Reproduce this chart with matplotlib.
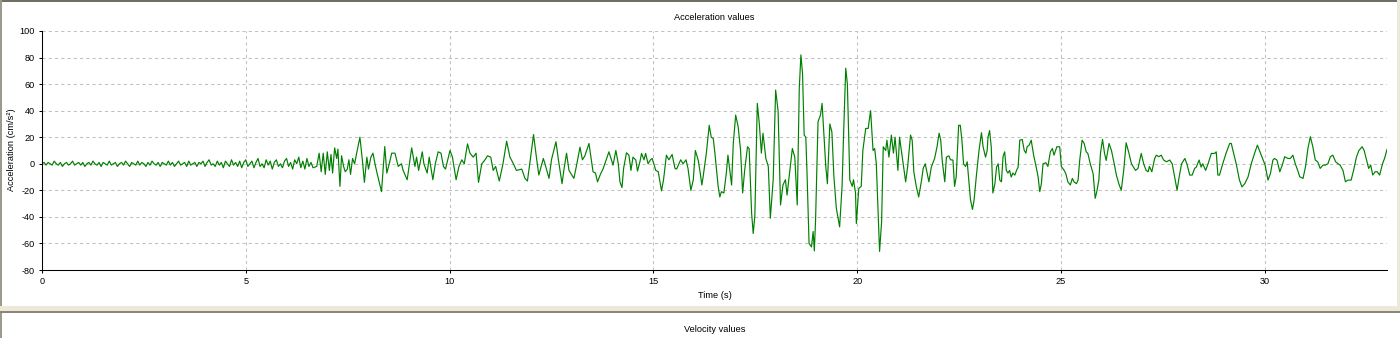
import numpy as np
import matplotlib.pyplot as plt
from matplotlib.patches import Rectangle

# pre-event noise, sampled every 0.05 s from t = 0
noise_acc = [0, 1, -1, 1, 0, -1, 2, 0, -1, 1, -2, 0, 1, -1, 0, 2, -1, 0, 1, -1,
             1, -2, 0, 1, -1, 2, 0, -1, 1, -2, 1, 0, -1, 2, -1, 0, 1, -2, 0, 1,
             -1, 2, 0, -2, 1, 0, -1, 2, -1, 1, 0, -2, 1, -1, 2, 0, -1, 1, -2, 1,
             0, -1, 2, -1, 1, -2, 0, 2, -1, 0, 1, -2, 2, -1, 0, 1, -2, 1, 0, 2,
             -2, 1, 3, -1, 0, -2, 2, -1, 1, -3, 2, 0, -2, 3, -1, 1, -2, 2, -3, 1,
             3, -2, 0, 2, -3, 1, 4, -2, 0, -3, 3, -1, 2, -4, 1, 3, -2, 0, -3, 2,
             4, -2, 1, -4, 3, 0, 5, -3, 2, -4, 4, -2, 1, -3]
noise_t = np.arange(len(noise_acc)) * 0.05

# strong motion part: turning points (time in s, acceleration in cm/s2)
event_t = [6.74, 6.80, 6.85, 6.90, 6.95, 7.00, 7.05, 7.09, 7.13, 7.18, 7.23, 7.26, 7.31, 7.35,
           7.40, 7.44, 7.49, 7.53, 7.57, 7.62, 7.67, 7.72, 7.80, 7.86, 7.91, 7.97, 8.01, 8.07,
           8.12, 8.17, 8.22, 8.33, 8.41, 8.46, 8.52, 8.58, 8.66, 8.74, 8.82, 8.86, 8.96, 9.07,
           9.15, 9.19, 9.24, 9.33, 9.37, 9.45, 9.50, 9.59, 9.65, 9.72, 9.79, 9.85, 9.90, 10.01,
           10.07, 10.16, 10.23, 10.30, 10.36, 10.44, 10.50, 10.58, 10.65, 10.71, 10.79, 10.87,
           10.93, 11.01, 11.07, 11.13, 11.22, 11.31, 11.40, 11.48, 11.55, 11.64, 11.77, 11.85,
           11.91, 11.98, 12.06, 12.13, 12.19, 12.30, 12.34, 12.44, 12.50, 12.61, 12.67, 12.76,
           12.81, 12.87, 12.93, 13.05, 13.11, 13.20, 13.26, 13.32, 13.42, 13.52, 13.58, 13.63,
           13.70, 13.77, 13.91, 14.01, 14.08, 14.14, 14.18, 14.23, 14.27, 14.34, 14.40, 14.45,
           14.50, 14.57, 14.61, 14.67, 14.71, 14.77, 14.81, 14.87, 14.93, 14.97, 15.06, 15.12,
           15.20, 15.25, 15.32, 15.38, 15.46, 15.53, 15.57, 15.67, 15.73, 15.80, 15.85, 15.92,
           15.98, 16.03, 16.10, 16.15, 16.19, 16.22, 16.30, 16.37, 16.42, 16.47, 16.51, 16.59,
           16.63, 16.67, 16.73, 16.79, 16.83, 16.92, 16.96, 17.02, 17.08, 17.14, 17.19, 17.24,
           17.31, 17.35, 17.41, 17.45, 17.49, 17.55, 17.60, 17.65, 17.69, 17.76, 17.82, 17.87,
           17.94, 18.00, 18.06, 18.12, 18.18, 18.24, 18.28, 18.35, 18.41, 18.47, 18.53, 18.58,
           18.62, 18.66, 18.70, 18.74, 18.77, 18.82, 18.88, 18.92, 18.95, 18.98, 19.04, 19.10,
           19.14, 19.18, 19.23, 19.27, 19.33, 19.38, 19.43, 19.49, 19.57, 19.63, 19.67, 19.72,
           19.76, 19.82, 19.88, 19.91, 19.96, 19.98, 20.04, 20.10, 20.14, 20.21, 20.27, 20.33,
           20.39, 20.43, 20.47, 20.55, 20.60, 20.64, 20.70, 20.73, 20.78, 20.84, 20.89, 20.93,
           21.00, 21.04, 21.13, 21.19, 21.24, 21.31, 21.35, 21.39, 21.45, 21.51, 21.58, 21.62,
           21.67, 21.72, 21.76, 21.82, 21.90, 21.96, 22.01, 22.05, 22.09, 22.15, 22.19, 22.25,
           22.29, 22.35, 22.39, 22.43, 22.49, 22.53, 22.57, 22.61, 22.66, 22.70, 22.74, 22.78,
           22.83, 22.87, 22.93, 22.99, 23.05, 23.09, 23.15, 23.19, 23.21, 23.25, 23.29, 23.33,
           23.38, 23.42, 23.46, 23.50, 23.54, 23.58, 23.62, 23.66, 23.70, 23.74, 23.78, 23.82,
           23.87, 23.91, 23.95, 23.99, 24.05, 24.10, 24.14, 24.17, 24.22, 24.27, 24.33, 24.40,
           24.44, 24.48, 24.52, 24.56, 24.63, 24.68, 24.74, 24.79, 24.83, 24.90, 24.97, 25.01,
           25.08, 25.12, 25.17, 25.23, 25.28, 25.32, 25.38, 25.42, 25.46, 25.52, 25.57, 25.62,
           25.66, 25.72, 25.79, 25.84, 25.88, 25.93, 25.97, 26.02, 26.07, 26.11, 26.18, 26.24,
           26.32, 26.36, 26.42, 26.48, 26.54, 26.60, 26.67, 26.73, 26.83, 26.89, 26.97, 27.03,
           27.09, 27.14, 27.17, 27.23, 27.30, 27.34, 27.40, 27.46, 27.52, 27.59, 27.67, 27.73,
           27.79, 27.85, 27.90, 27.96, 28.04, 28.09, 28.16, 28.22, 28.28, 28.32, 28.39, 28.44,
           28.48, 28.55, 28.61, 28.69, 28.77, 28.81, 28.85, 28.89, 28.97, 29.05, 29.14, 29.18,
           29.22, 29.30, 29.38, 29.44, 29.51, 29.59, 29.67, 29.75, 29.82, 29.87, 29.96, 30.01,
           30.08, 30.14, 30.20, 30.24, 30.30, 30.37, 30.43, 30.49, 30.57, 30.63, 30.69, 30.75,
           30.82, 30.86, 30.94, 31.00, 31.06, 31.12, 31.18, 31.24, 31.30, 31.36, 31.43, 31.49,
           31.55, 31.61, 31.67, 31.74, 31.80, 31.85, 31.92, 31.98, 32.04, 32.12, 32.18, 32.25,
           32.31, 32.39, 32.44, 32.50, 32.55, 32.60, 32.65, 32.71, 32.76, 32.82, 32.89, 32.94,
           33.00]
event_acc = [-2, 8, -6, 8, -8, 9, -5, 7, -7, 12, 4, 11, -17, 6,
             -2, -6, -4, 3, -8, 4, 0, 8, 20, 3, -14, 5, -4, 5,
             8, 0, -7, -21, 13, -7, 0, 8, 8, -2, 0, -5, -12, 12,
             -2, 5, -5, 9, 0, -7, 5, -12, 0, 9, 8, -2, -4, 10,
             5, -12, -2, 3, 0, 15, 8, 5, 8, -14, 0, 3,
             6, 5, -5, -2, -13, 0, 17, 5, 1, -5, -4, -11,
             -13, 3, 22, 5, -8.5, 4, 0, -11, 3, 16.6, 3, -15,
             -3.5, 8, -5, -11, -2, 12.5, 3, 6, 15.3, -6, -7, -13.6,
             -8, -3.5, 9, -1, 10, 0, -13.6, -17.9, -3.5, 8.3, 6.5, -5,
             5, 2.8, -5.5, 1.5, 7.8, 3, 7.8, 0, 3, 4, -5, -6,
             -20.4, -12, 6.5, 3, 7, -3.5, -4, 3, 0, 3, -3.5, -20,
             -12, 10, 2.8, -7, -16, -10, 8, 29, 20, 19, 8, -17,
             -25, -21, -22, -7, 6.5, -16, 15, 36.7, 28, 10, -22, -5,
             12.8, 11.5, -37, -52.5, -39, 45.5, 30, 8, 23, 4, -2, -41,
             -12, 55.5, 40, -31, -16, -12, -23.6, -5, 11.5, 5, -31, 56.8,
             82, 68, 21.6, 20, -7, -60, -62.6, -51, -65.6, -42, 31.7, 36.7,
             45.5, 25, -2, -15, 30, 24, -10, -33.7, -47.5, -17, 25, 72,
             60, -12.3, -17, -12, -22, -45, -18.6, -17, 10, 26.6, 26.6, 40,
             10, 11.5, 0, -66, -43.7, 12.8, 10, 17.8, 5, 21.6, 8, 20,
             -5, 20, 0, -13.6, -2, 21.6, 17.8, -6, -17, -25, -12.5, -3.5,
             0, -7.5, -13.6, -2.5, 4, 12.8, 23, 18, 1.5, -13.6, 5, 6,
             3, 2.8, -17, -10, 29, 29, 18, 0, -2, 1.5, -12.3, -27,
             -34.4, -27, -7.5, 10, 23.4, 12.8, 5, 10, 20, 25, 12.8, -22,
             -15, -2.5, 0, -12.3, -13.6, 5.5, 9, -5, -7, -5, -10, -7,
             -8.5, -5, -2.5, 17.8, 18.3, 10, 8, 12.8, 14, 17.8, 6.5, -3.5,
             -10, -21, -15, 0, 0.8, -2, 9, 11.5, 6.5, 12.8, 12.8, -2,
             -5, -7.5, -13.6, -16, -11, -13.6, -15, -12.3, 2.5, 17.8, 15.3, 9,
             7.8, 0, -7.5, -26, -21, -12.3, 8, 18.4, 7.8, 2.5, 15.3, 10,
             -2, -8.5, -15, -20, -5, 15.8, 7.8, 0, -5, -3.5, 7.8, 0,
             -5, -6, -2, -6, 4, 6.5, 5.3, 6.5, 2.8, 1.5, 2.8, 0,
             -10, -20, -10, 0, 4, 0, -8.5, -8.5, -3.5, -2.5, 2.8, -2.5,
             0, -5, 0, 7.8, 7.8, 9, -8.5, -8.5, 0, 7.8, 15.3, 15.3,
             10, 0, -12.3, -17.4, -15, -10, 0, 7.8, 14, 10, 2.8, -1,
             -12.3, -7.3, 2.8, 4, 2.8, -6, -1, 5.3, 4, 4, 6.5, 0,
             -6, -9.8, -11, -2.3, 11.6, 20.4, 12.8, 2.8, 1.5, -3.5, -1, -1,
             0, 5.3, 6.5, 1.5, 0, -1, -5, -13.6, -12.3, -12.3, -5, 5,
             10, 12.8, 10, 2.8, -3.5, -1, -8.5, -6, -6, -8.5, 0, 4,
             10.8]

time = np.concatenate([noise_t, event_t])
acc = np.concatenate([noise_acc, event_acc])

plt.rcParams['font.family'] = ['Liberation Sans', 'DejaVu Sans']
plt.rcParams['axes.unicode_minus'] = False

W, H = 1400, 338
fig = plt.figure(figsize=(W / 100, H / 100), dpi=100)
fig.patch.set_facecolor('white')


def px_rect(x, y, w, h, color):
    # rectangle given in pixels from the top-left corner
    fig.add_artist(Rectangle((x / W, 1 - (y + h) / H), w / W, h / H,
                             transform=fig.transFigure, color=color, lw=0))


# window frame pieces
px_rect(0, 0, W, 2, '#716f64')
px_rect(0, 0, 2, 306, '#9d9a8c')
px_rect(1397, 0, 3, 306, '#ece9d8')
px_rect(0, 306, W, 5, '#ece9d8')
px_rect(0, 311, W, 2, '#8a877a')
px_rect(0, 313, 2, 25, '#9d9a8c')

ax = fig.add_axes([42 / W, 1 - 270 / H, (1387 - 42) / W, (270 - 31) / H])
ax.plot(time, acc, color='#008000', lw=0.85)

ax.set_xlim(0, 33)
ax.set_ylim(-80, 100)
ax.set_xticks([0, 5, 10, 15, 20, 25, 30])
ax.set_yticks(np.arange(-80, 101, 20))

ax.grid(True, color='#c0c0c0', lw=0.75, linestyle=(0, (3, 3)))
for side in ['top', 'right']:
    ax.spines[side].set_visible(False)
for side in ['left', 'bottom']:
    ax.spines[side].set_linewidth(0.75)
    ax.spines[side].set_color('black')
ax.tick_params(axis='both', direction='out', length=2.5, width=0.75, labelsize=6.6, pad=2.5)

fig.text(714.5 / W, 1 - 17 / H, 'Acceleration values', ha='center', va='center', fontsize=6.7)
fig.text(714.5 / W, 1 - 296 / H, 'Time (s)', ha='center', va='center', fontsize=6.7)
fig.text(12 / W, 1 - 150 / H, 'Acceleration (cm/s²)', ha='center', va='center',
         rotation=90, fontsize=6.7)
fig.text(714.5 / W, 1 - 330 / H, 'Velocity values', ha='center', va='center', fontsize=6.7)

fig.savefig('out.png', dpi=100)
